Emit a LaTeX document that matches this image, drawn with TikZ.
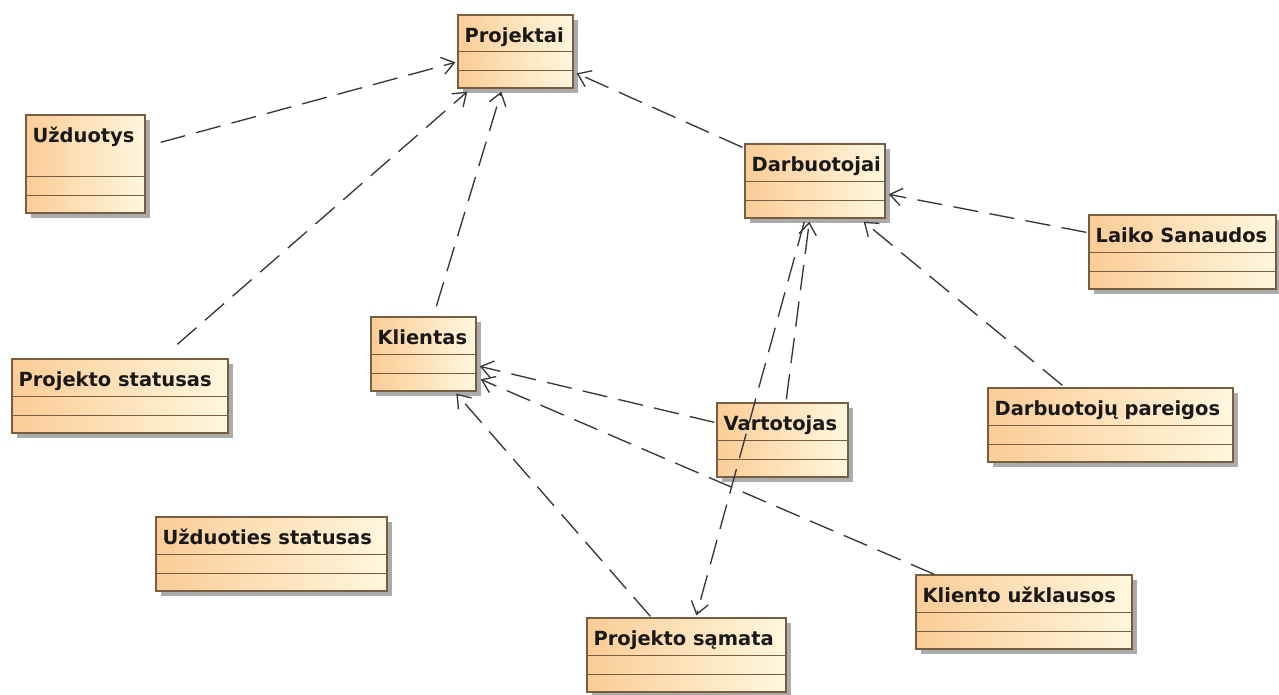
\documentclass[tikz,border=0pt]{standalone}
\usepackage{fontspec}
\setmainfont{DejaVu Sans}
\usetikzlibrary{calc,arrows.meta,shadows}

\definecolor{boxleft}{RGB}{251,204,150}
\definecolor{boxright}{RGB}{255,247,222}
\definecolor{boxedge}{RGB}{120,94,64}
\definecolor{depline}{RGB}{55,55,55}
\definecolor{shadowgrey}{RGB}{150,150,150}

\tikzset{
  classbox/.style={rectangle, draw=boxedge, line width=1pt,
    left color=boxleft, right color=boxright, inner sep=0pt,
    drop shadow={shadow xshift=3.5pt, shadow yshift=-3.5pt, fill=shadowgrey, opacity=0.8}},
  classtitle/.style={inner sep=0pt, anchor=base west,
    font=\fontsize{14.6}{18}\selectfont\bfseries, text=black!90},
  compline/.style={draw=boxedge, line width=1pt},
  depend/.style={draw=depline, line width=1pt, dash pattern=on 19pt off 8.5pt,
    -{Straight Barb[length=9pt,width=13pt]}},
}

% UML class: name, left, top, right, bottom (pixel units), title
\newcommand\umlclass[6]{%
  \pgfmathsetmacro\bw{(#4-#2)*0.75}%
  \pgfmathsetmacro\bh{(#5-#3)*0.75}%
  \node[classbox, minimum width=\bw pt, minimum height=\bh pt] (#1) at ({(#2+#4)/2},{(#3+#5)/2}) {};
  \node[classtitle] (#1-title) at ($(#1.north west)+(7,28)$) {#6};
  \draw[compline] ($(#1.south west)+(0,-18.5)$) -- ($(#1.south east)+(0,-18.5)$);
  \draw[compline] ($(#1.south west)+(0,-37)$) -- ($(#1.south east)+(0,-37)$);
}

\begin{document}
\begin{tikzpicture}[x=0.75pt, y=-0.75pt]
  \useasboundingbox[fill=white] (0,0) rectangle (1279,694);

  % classes
  \umlclass{proj}{458}{15}{573}{88}{Projektai}
  \umlclass{uzd}{26}{115}{145}{213}{Užduotys}
  \umlclass{darb}{745}{144}{885}{218}{Darbuotojai}
  \umlclass{laiko}{1089}{215}{1276}{289}{Laiko Sanaudos}
  \umlclass{pstat}{12}{359}{228}{433}{Projekto statusas}
  \umlclass{klient}{371}{317}{476}{391}{Klientas}
  \umlclass{vart}{717}{403}{848}{477}{Vartotojas}
  \umlclass{pareig}{988}{388}{1233}{462}{Darbuotojų pareigos}
  \umlclass{uzdstat}{156}{517}{387}{591}{Užduoties statusas}
  \umlclass{samata}{587}{618}{786}{692}{Projekto sąmata}
  \umlclass{kliento}{916}{575}{1132}{649}{Kliento užklausos}

  % dependencies
  \draw[depend] ($(uzd.north east)+(15,28)$) -- ($(proj.north west)+(-2,48)$);
  \draw[depend] ($(pstat.north west)+(166,-14)$) -- ($(proj.south west)+(10,3)$);
  \draw[depend] ($(klient.north west)+(66,-10)$) -- ($(proj.south west)+(44,3)$);
  \draw[depend] ($(darb.north west)+(-2,4)$) -- ($(proj.north east)+(3,59)$);
  \draw[depend] ($(laiko.north west)+(-2,18)$) -- ($(darb.north east)+(3,51)$);
  \draw[depend] ($(pareig.north west)+(75,-2)$) -- ($(darb.south east)+(-22,3)$);
  \draw[depend] ($(vart.north west)+(70,-3)$) -- ($(darb.south west)+(65,3)$);
  \draw[depend] ($(darb.south west)+(60,3)$) -- ($(samata.north west)+(110,-2)$);
  \draw[depend] ($(vart.north west)+(-2,20)$) -- ($(klient.north east)+(3,50)$);
  \draw[depend] ($(kliento.north west)+(19,0)$) -- ($(klient.north east)+(4,63)$);
  \draw[depend] ($(samata.north west)+(64,-1)$) -- ($(klient.south west)+(86,2)$);
\end{tikzpicture}
\end{document}
